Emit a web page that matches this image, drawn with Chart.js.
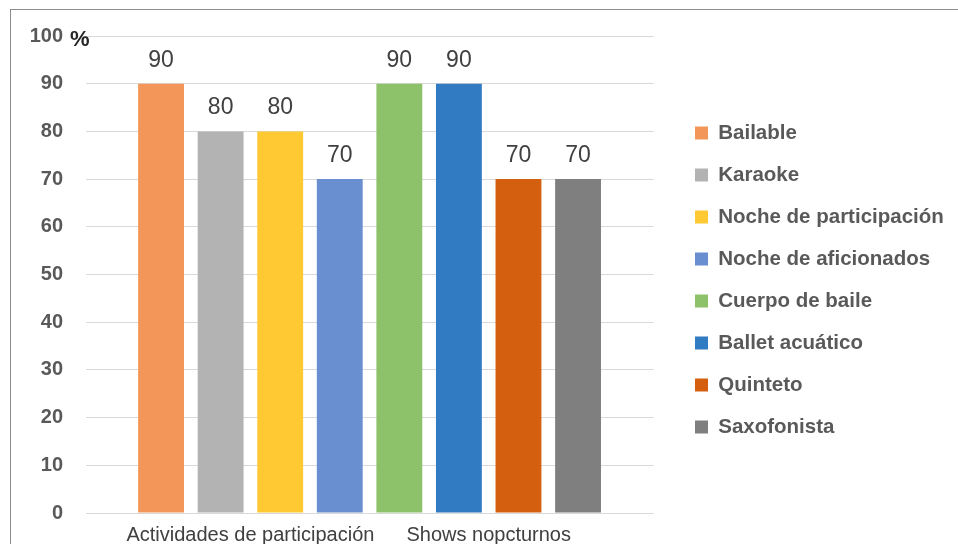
<!DOCTYPE html>
<html>
<head>
<meta charset="utf-8">
<script src="https://cdn.jsdelivr.net/npm/chart.js@4.4.1/dist/chart.umd.min.js"></script>
<style>
  html, body { margin: 0; padding: 0; background: #ffffff; }
  #wrap { position: relative; width: 958px; height: 544px; }
  #frame { position: absolute; left: 10px; top: 9px; width: 948px; height: 535px;
           border-top: 1px solid #8c8c8c; border-left: 1px solid #8c8c8c; pointer-events: none; }
  canvas { position: absolute; left: 0; top: 0; }
</style>
</head>
<body>
<div id="wrap">
  <canvas id="c" width="958" height="544"></canvas>
  <div id="frame"></div>
</div>
<script>
// ---- data ----
const seriesNames = ['Bailable', 'Karaoke', 'Noche de participación', 'Noche de aficionados',
                     'Cuerpo de baile', 'Ballet acuático', 'Quinteto', 'Saxofonista'];
const seriesValues = [90, 80, 80, 70, 90, 90, 70, 70];
const seriesColors = ['#F29759', '#B3B3B3', '#FFC933', '#6A8FD0',
                      '#8DC16A', '#307BC1', '#D4600F', '#7F7F7F'];
const groupNames = ['Actividades de participación', 'Shows nopcturnos'];
const groupSizes = [4, 4];
const yTicks = [0, 10, 20, 30, 40, 50, 60, 70, 80, 90, 100];
const yUnit = '%';

// group label positions: centre of each group of bar slots
const groupCenters = [];
{ let start = 1; groupSizes.forEach(n => { groupCenters.push(start + (n - 1) / 2); start += n; }); }

const points = seriesValues.map((v, i) => ({ x: i + 1, y: v }));

const valueLabels = {
  id: 'valueLabels',
  afterDatasetsDraw(chart) {
    const ctx = chart.ctx;
    const meta = chart.getDatasetMeta(0);
    ctx.save();
    ctx.font = '23px "Liberation Sans", Arial, sans-serif';
    ctx.fillStyle = '#404040';
    ctx.textAlign = 'center';
    ctx.textBaseline = 'alphabetic';
    meta.data.forEach((el, i) => {
      ctx.fillText(String(seriesValues[i]), el.x, el.y - 17);
    });
    ctx.restore();
  }
};

const unitLabel = {
  id: 'unitLabel',
  afterDraw(chart) {
    const y = chart.scales.y;
    const ctx = chart.ctx;
    ctx.save();
    ctx.font = 'bold 22px "Liberation Sans", Arial, sans-serif';
    ctx.fillStyle = '#262626';
    ctx.textAlign = 'left';
    ctx.textBaseline = 'middle';
    ctx.fillText(yUnit, 70, y.getPixelForValue(yTicks[yTicks.length - 1]) + 4);
    ctx.restore();
  }
};

const legendShift = {
  id: 'legendShift',
  afterLayout(chart) {
    const lg = chart.legend;
    if (!lg) return;
    const dx = 673.5 - lg.left;
    lg.left += dx; lg.right += dx;
    lg.top -= 10; lg.bottom -= 10;
  }
};

new Chart(document.getElementById('c'), {
  type: 'bar',
  data: {
    datasets: [{
      data: points,
      backgroundColor: seriesColors,
      borderWidth: 0,
      barPercentage: 0.77,
      categoryPercentage: 1.0
    }]
  },
  options: {
    responsive: false,
    animation: false,
    layout: { padding: { left: 0, top: 36, right: 24, bottom: 0 } },
    plugins: {
      tooltip: { enabled: false },
      legend: {
        position: 'right',
        maxWidth: 340,
        labels: {
          boxWidth: 13,
          boxHeight: 13,
          padding: 21.5,
          color: '#595959',
          font: { family: '"Liberation Sans", Arial, sans-serif', size: 20.5, weight: 'bold' },
          generateLabels() {
            return seriesNames.map((n, i) => ({
              text: n, fillStyle: seriesColors[i], strokeStyle: seriesColors[i],
              fontColor: '#595959',
              lineWidth: 0, hidden: false, index: i, datasetIndex: 0
            }));
          }
        }
      }
    },
    scales: {
      x: {
        type: 'linear',
        offset: false,
        bounds: 'data',
        min: -0.26,
        max: 9.27,
        grid: { display: false },
        border: { display: false },
        afterBuildTicks(axis) { axis.ticks = groupCenters.map(v => ({ value: v })); },
        afterFit(axis) { axis.height = 31; },
        ticks: {
          autoSkip: false,
          maxRotation: 0,
          padding: 2,
          color: '#404040',
          font: { family: '"Liberation Sans", Arial, sans-serif', size: 20 },
          callback(value) {
            const k = groupCenters.indexOf(value);
            return k >= 0 ? groupNames[k] : '';
          }
        }
      },
      y: {
        min: 0,
        max: 100,
        afterBuildTicks(axis) { axis.ticks = yTicks.map(v => ({ value: v })); },
        afterFit(axis) { axis.width = 86; axis.paddingTop = 0; axis.paddingBottom = 0; },
        grid: { color: '#d9d9d9', lineWidth: 1, drawTicks: false },
        border: { display: false },
        ticks: {
          padding: 23,
          color: '#595959',
          font: { family: '"Liberation Sans", Arial, sans-serif', size: 20, weight: 'bold' }
        }
      }
    }
  },
  plugins: [valueLabels, unitLabel, legendShift]
});
</script>
</body>
</html>
